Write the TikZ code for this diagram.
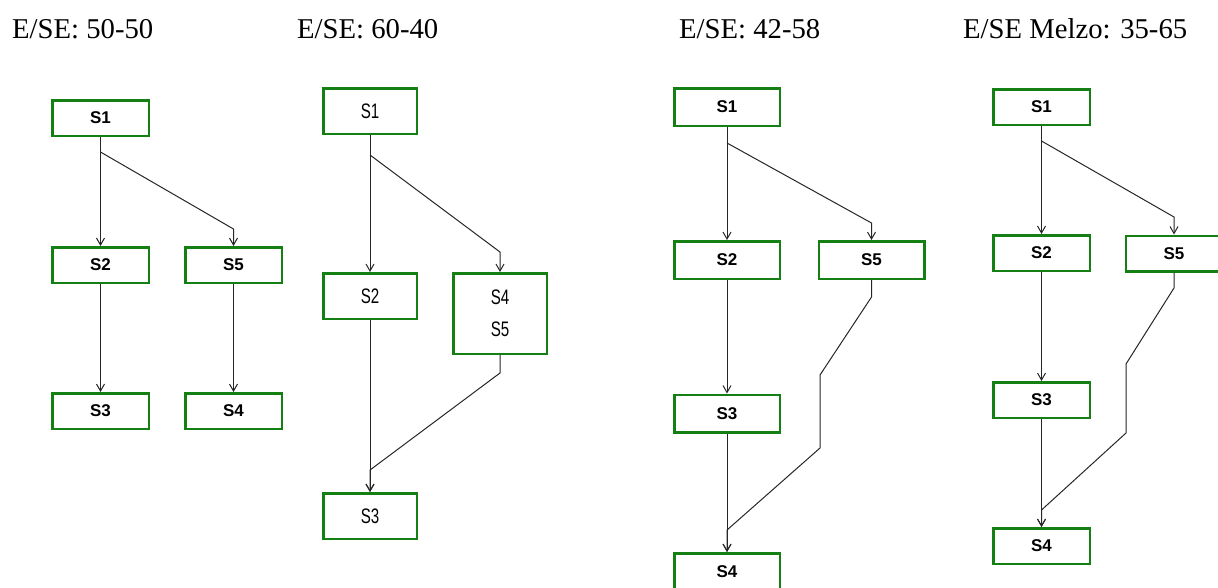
\documentclass[tikz,border=0pt]{standalone}
\usepackage{fontspec}
\setmainfont{Liberation Serif}
\newfontfamily\boxfont{Liberation Sans}
\usetikzlibrary{arrows.meta}
\definecolor{boxgreen}{RGB}{20,128,20}
\tikzset{
  title/.style={anchor=base west, inner sep=0pt, font=\fontsize{28.7}{30}\selectfont},
  sbox/.style={draw=boxgreen, line width=2.5pt, fill=white, inner sep=0pt,
     minimum width=#1, font=\boxfont\bfseries\fontsize{17}{19}\selectfont},
  sboxb/.style={draw=boxgreen, line width=2.5pt, fill=white, inner sep=0pt, align=center,
     minimum width=93.5pt, font=\boxfont\fontsize{21}{32}\selectfont},
  conn/.style={line width=1pt, draw=black!85},
  arr/.style={conn, -{Straight Barb[length=7pt,width=8pt,line width=1pt]}},
}
\newcommand{\nar}[1]{\scalebox{0.72}[1]{#1}}
\begin{document}
\begin{tikzpicture}[x=1pt,y=-1pt]
\useasboundingbox (0,0) rectangle (1218,587);
% titles
\node[title] (t1) at (12,38) {E/SE: 50-50};
\node[title] (t2) at (297,38) {E/SE: 60-40};
\node[title] (t3) at (679,38) {E/SE: 42-58};
\node[title] (t4) at (963,38) {E/SE Melzo: 35-65};

% ---------- diagram 1
\begin{scope}[every node/.append style={sbox=96.5pt, minimum height=35.5pt}]
\node (a1) at (100.5,118) {S1};
\node (a2) at (100.5,265) {S2};
\node (a5) at (233.5,265) {S5};
\node (a3) at (100.5,411) {S3};
\node (a4) at (233.5,411) {S4};
\end{scope}
\coordinate (ab) at (100.5,152);
\coordinate (ac) at (233.5,229);
\draw[arr] (a1.south) -- (a2.north);
\draw[arr] (ab) -- (ac) -- (a5.north);
\draw[arr] (a2.south) -- (a3.north);
\draw[arr] (a5.south) -- (a4.north);

% ---------- diagram 2
\node[sboxb, minimum height=45.5pt] (b1) at (370,111) {\nar{S1}};
\node[sboxb, minimum height=45.5pt] (b2) at (370,296) {\nar{S2}};
\node[sboxb, minimum height=80.5pt] (b45) at (500,313.5) {\nar{S4}\\\nar{S5}};
\node[sboxb, minimum height=45.5pt] (b3) at (370,516) {\nar{S3}};
\coordinate (bb) at (370,155);
\coordinate (bc) at (500,252);
\coordinate (bd) at (500,373);
\coordinate (be) at (370,470);
\draw[arr] (b1.south) -- (b2.north);
\draw[arr] (bb) -- (bc) -- (b45.north);
\draw[arr] (b2.south) -- (b3.north);
\draw[arr] (b45.south) -- (bd) -- (be) -- (b3.north);

% ---------- diagram 3
\begin{scope}[every node/.append style={sbox=105.5pt, minimum height=37.5pt}]
\node (c1) at (727,107) {S1};
\node (c2) at (727,260) {S2};
\node (c5) at (871.5,260) {S5};
\node (c3) at (727,413.5) {S3};
\node (c4) at (727,572) {S4};
\end{scope}
\coordinate (cb) at (727,143);
\coordinate (cc) at (871.5,223);
\coordinate (cd) at (871.5,297);
\coordinate (ce) at (820,375);
\coordinate (cf) at (820,448);
\coordinate (cg) at (727,530);
\draw[arr] (c1.south) -- (c2.north);
\draw[arr] (cb) -- (cc) -- (c5.north);
\draw[arr] (c2.south) -- (c3.north);
\draw[arr] (c3.south) -- (c4.north);
\draw[arr] (c5.south) -- (cd) -- (ce) -- (cf) -- (cg) -- (c4.north);

% ---------- diagram 4
\begin{scope}[every node/.append style={sbox=96.5pt, minimum height=35.5pt}]
\node (d1) at (1041.5,107) {S1};
\node (d2) at (1041.5,253) {S2};
\node (d5) at (1174,253.5) {S5};
\node (d3) at (1041.5,400) {S3};
\node (d4) at (1041.5,546) {S4};
\end{scope}
\coordinate (db) at (1041.5,141);
\coordinate (dc) at (1174,217);
\coordinate (dd) at (1174,288);
\coordinate (de) at (1126,364);
\coordinate (df) at (1126,433);
\coordinate (dg) at (1041.5,510);
\draw[arr] (d1.south) -- (d2.north);
\draw[arr] (db) -- (dc) -- (d5.north);
\draw[arr] (d2.south) -- (d3.north);
\draw[arr] (d3.south) -- (d4.north);
\draw[arr] (d5.south) -- (dd) -- (de) -- (df) -- (dg) -- (d4.north);
\end{tikzpicture}
\end{document}
